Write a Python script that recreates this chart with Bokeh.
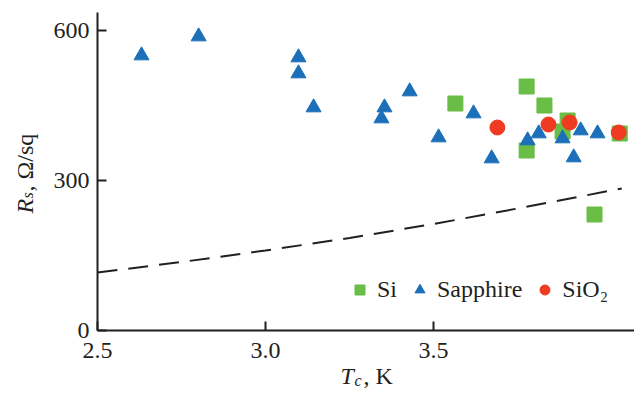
import math
from bokeh.plotting import figure
from bokeh.models import Range1d, FixedTicker, Legend, LegendItem, GridBox
from bokeh.core.properties import value
from bokeh.embed import file_html
from bokeh.resources import INLINE

# ---- data ----
si_tc = [3.565, 3.777, 3.830, 3.899, 3.884, 3.777, 4.054, 3.979]
si_rs = [454, 488, 450, 420, 398, 360, 394, 232]

sap_tc = [2.631, 2.801, 3.098, 3.098, 3.143, 3.354, 3.345, 3.429, 3.515,
          3.619, 3.673, 3.780, 3.813, 3.884, 3.938, 3.988, 3.917]
sap_rs = [550, 588, 546, 514, 446, 446, 424, 478, 386,
          434, 344, 380, 394, 384, 400, 394, 346]

sio2_tc = [3.690, 3.842, 3.905, 4.051]
sio2_rs = [406, 412, 416, 396]

curve_tc = [2.5, 2.75, 3.0, 3.25, 3.5, 3.75, 4.06]
curve_rs = [116, 137, 160, 185, 213, 244, 284]

x_ticks = [2.5, 3.0, 3.5]
x_tick_labels = ["2.5", "3.0", "3.5"]
y_ticks = [0, 300, 600]
y_tick_labels = ["0", "300", "600"]

series_names = ["Si", "Sapphire", "SiO\u2082"]

INK = "#231f20"
GREEN = "#6abd45"
BLUE = "#1c6fb8"
RED = "#ee3b22"
FONT = "Liberation Serif"
W, H = 634, 394

p = figure(width=W, height=H, output_backend="svg", toolbar_location=None,
           x_range=Range1d(2.5, 4.098), y_range=Range1d(0, 636),
           min_border_left=97, min_border_right=0, min_border_top=12,
           min_border_bottom=64, frame_align=False)
p.outline_line_color = None
p.grid.visible = False
p.background_fill_color = "white"

for ax in (p.xaxis[0], p.yaxis[0]):
    ax.axis_line_width = 2
    ax.axis_line_color = INK
    ax.major_tick_in = 9
    ax.major_tick_out = 0
    ax.major_tick_line_width = 2
    ax.major_tick_line_color = INK
    ax.minor_tick_line_color = None
    ax.major_label_text_font = FONT
    ax.major_label_text_font_size = "24px"
    ax.major_label_text_color = INK
    ax.axis_label = None

p.xaxis.ticker = FixedTicker(ticks=x_ticks)
p.xaxis.major_label_overrides = {t: s for t, s in zip(x_ticks, x_tick_labels)}
p.xaxis.major_label_standoff = 12
p.yaxis.ticker = FixedTicker(ticks=y_ticks)
p.yaxis.major_label_overrides = {t: s for t, s in zip(y_ticks, y_tick_labels)}
p.yaxis.major_label_standoff = 8

p.line(curve_tc, curve_rs, line_color=INK, line_width=2, line_dash="20 11")

r_si = p.scatter(si_tc, si_rs, marker="square", size=15, fill_color=GREEN,
                 line_color=GREEN)
r_sap = p.scatter(sap_tc, sap_rs, marker="triangle", size=15, fill_color=BLUE,
                  line_color=BLUE)
r_sio2 = p.scatter(sio2_tc, sio2_rs, marker="circle", size=15, fill_color=RED,
                   line_color=RED)

legend = Legend(items=[LegendItem(label=series_names[0], renderers=[r_si]),
                       LegendItem(label=series_names[1], renderers=[r_sap]),
                       LegendItem(label=series_names[2], renderers=[r_sio2])],
                orientation="horizontal", location=(250, 27),
                glyph_width=25, glyph_height=25, label_standoff=5, spacing=10,
                padding=0, margin=0, border_line_color=None,
                background_fill_alpha=0, label_text_font=FONT,
                label_text_font_size="24px", label_text_color=INK)
p.add_layout(legend)

# transparent overlay figure (page pixel coordinates) for the axis titles,
# which mix italic symbols and subscripts
lab = figure(width=W, height=H, output_backend="svg", toolbar_location=None,
             x_range=Range1d(0, W), y_range=Range1d(0, H),
             x_axis_type=None, y_axis_type=None,
             min_border_left=0, min_border_right=0, min_border_top=0,
             min_border_bottom=0, frame_align=False)
lab.outline_line_color = None
lab.grid.visible = False
lab.background_fill_alpha = 0
lab.border_fill_alpha = 0


def txt(x, y, t, size, italic=False, angle=0.0):
    lab.text(x=[x], y=[H - y], text=[t], angle=angle,
             text_font=value(FONT), text_font_size=value(size),
             text_font_style="italic" if italic else "normal",
             text_color=INK, text_align="left", text_baseline="alphabetic")


# x title: T_c, K
txt(340, 375, "T", "24px", italic=True)
txt(354, 380, "c", "16px", italic=True)
txt(363, 375, ", K", "24px")

# y title: R_s, Ohm/sq (rotated)
txt(24, 213, "R", "24px", italic=True, angle=math.pi / 2)
txt(27, 198, "s", "16px", italic=True, angle=math.pi / 2)
txt(24, 191, ", \u03a9/sq", "24px", angle=math.pi / 2)

grid = GridBox(children=[(p, 0, 0), (lab, 0, 0)])

open("out.html", "w").write(file_html(grid, INLINE))
